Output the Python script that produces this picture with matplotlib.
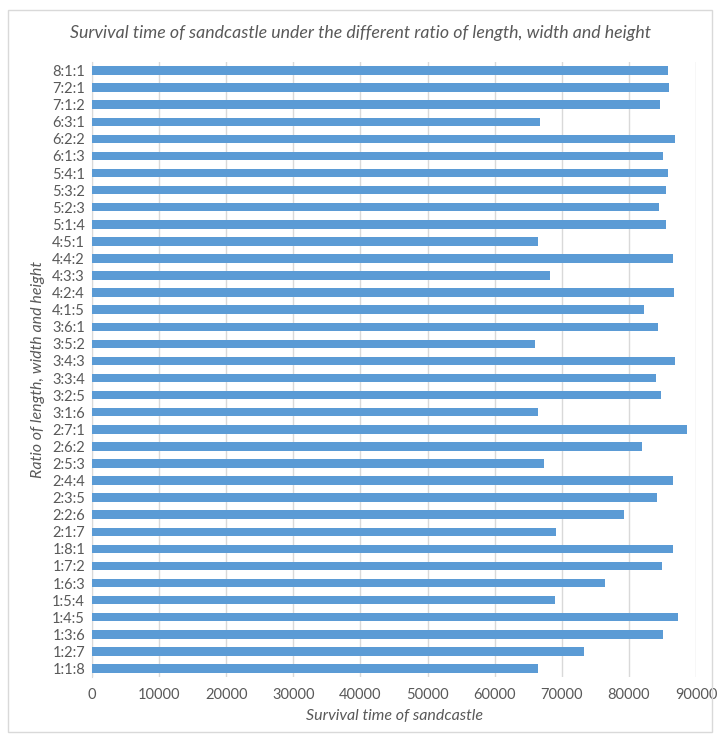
import matplotlib.pyplot as plt
from matplotlib.patches import Rectangle

ratios = ["8:1:1", "7:2:1", "7:1:2", "6:3:1", "6:2:2", "6:1:3", "5:4:1", "5:3:2",
          "5:2:3", "5:1:4", "4:5:1", "4:4:2", "4:3:3", "4:2:4", "4:1:5", "3:6:1",
          "3:5:2", "3:4:3", "3:3:4", "3:2:5", "3:1:6", "2:7:1", "2:6:2", "2:5:3",
          "2:4:4", "2:3:5", "2:2:6", "2:1:7", "1:8:1", "1:7:2", "1:6:3", "1:5:4",
          "1:4:5", "1:3:6", "1:2:7", "1:1:8"]
survival = [85800, 86000, 84600, 66800, 86800, 85100, 85800, 85600,
            84500, 85500, 66500, 86600, 68200, 86700, 82200, 84400,
            66000, 86800, 84100, 84800, 66500, 88700, 82000, 67400,
            86500, 84200, 79200, 69200, 86600, 85000, 76400, 69000,
            87300, 85100, 73300, 66500]
xticks = list(range(0, 90001, 10000))

plt.rcParams["font.family"] = ["Lato", "DejaVu Sans"]
grey = "#595959"

fig = plt.figure(figsize=(7.2, 7.35), dpi=100)
ax = fig.add_axes([92 / 720, 1 - 677 / 735, (696 - 92) / 720, (677 - 62) / 735])

# categories listed top to bottom
ypos = list(range(len(ratios)))[::-1]
ax.barh(ypos, survival, height=0.5, color="#5B9BD5", zorder=3)

ax.set_xlim(0, 90000)
ax.set_ylim(-0.5, len(ratios) - 0.5)
ax.set_xticks(xticks)
ax.set_xticklabels([str(t) for t in xticks])
ax.set_yticks(ypos)
ax.set_yticklabels(ratios)
ax.tick_params(length=0, colors=grey, labelsize=10.5)
ax.tick_params(axis="x", pad=8)
ax.tick_params(axis="y", pad=5)
ax.grid(axis="x", color="#D9D9D9", linewidth=1, zorder=0)
for side in ["top", "right", "bottom"]:
    ax.spines[side].set_visible(False)
ax.spines["left"].set_color("#D9D9D9")

ax.set_xlabel("Survival time of sandcastle", style="italic", color=grey,
              fontsize=11.5, labelpad=5)
ax.set_ylabel("Ratio of length, width and height", style="italic", color=grey,
              fontsize=11.5, labelpad=5)
fig.text(0.5, 1 - 33 / 735,
         "Survival time of sandcastle under the different ratio of length, width and height",
         ha="center", va="center", style="italic", color=grey, fontsize=12.8)

# outer chart frame
fig.patches.append(Rectangle((8 / 720, 1 - 732 / 735), 704 / 720, 722 / 735,
                             transform=fig.transFigure, fill=False,
                             edgecolor="#D9D9D9", linewidth=1))

fig.savefig("out.png", dpi=100, facecolor="white")
